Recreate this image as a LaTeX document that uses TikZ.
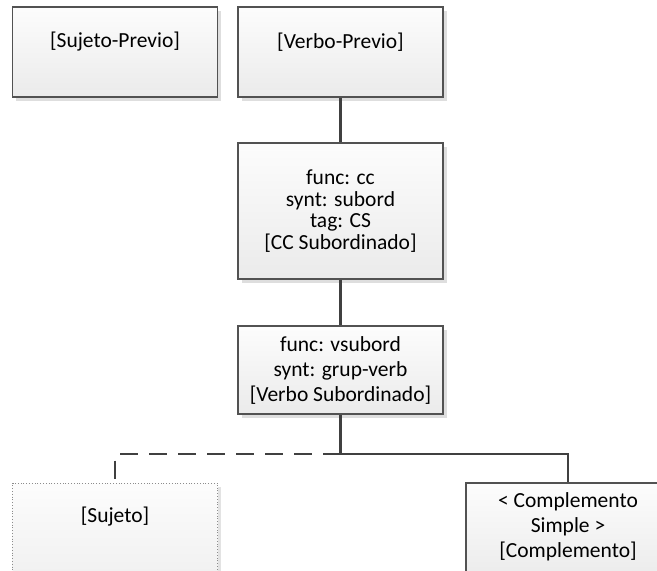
\documentclass[tikz,border=0pt]{standalone}
\usepackage{fontspec}
\setmainfont{Carlito}
\usetikzlibrary{shadows}
\begin{document}
\begin{tikzpicture}[x=1pt,y=-1pt,
  box/.style={draw=black!68, line width=1.2pt, top color=black!1, bottom color=black!8,
    minimum width=205pt, inner sep=0pt, align=center,
    drop shadow={fill=black!13, opacity=1, shadow xshift=3.5pt, shadow yshift=-3.5pt}},
  dotbox/.style={draw=black!45, line width=0.8pt, dotted, top color=black!1, bottom color=black!6,
    minimum width=205pt, inner sep=0pt,
    drop shadow={fill=black!11, opacity=1, shadow xshift=3.5pt, shadow yshift=-3.5pt}},
  lbl/.style={inner sep=0pt, align=center, font=\fontsize{21.5}{25}\selectfont},
  conn/.style={draw=black!75, line width=2.6pt},
  dconn/.style={conn, dash pattern=on 18pt off 11pt}]
\useasboundingbox (0,0) rectangle (657,571);
\clip (0,0) rectangle (657,571);
\fill[white] (0,0) rectangle (657,571);

% upper row
\node[box, minimum height=90pt] (sp) at (115,52) {};
\node[lbl] (spt) at (115,42) {{[}Sujeto-Previo{]}};
\node[box, minimum height=90pt] (vp) at (340.5,52) {};
\node[lbl] (vpt) at (340.5,42) {{[}Verbo-Previo{]}};

% subordinate clause chain
\node[box, minimum height=136pt, font=\fontsize{21.5}{21.7}\selectfont] (cc) at (340.5,211)
  {func: cc\\synt: subord\\tag: CS\\{[}CC Subordinado{]}};
\node[box, minimum height=88pt, font=\fontsize{21.5}{25}\selectfont] (vs) at (340.5,370)
  {func: vsubord\\synt: grup-verb\\{[}Verbo Subordinado{]}};

% lower row
\node[dotbox, minimum height=100pt] (sj) at (115,533) {};
\node[lbl] (sjt) at (115,517) {{[}Sujeto{]}};
\node[box, minimum height=100pt, minimum width=204pt] (cp) at (568,533) {};
\node[lbl] (cpt) at (568,527) {< Complemento\\Simple >\\{[}Complemento{]}};

% connectors
\coordinate (j) at (340.5,454);
\draw[conn] (vp.south) -- (cc.north);
\draw[conn] (cc.south) -- (vs.north);
\draw[conn] (vs.south) -- (j) -| (cp.north);
\draw[dconn] (j) -| (sj.north);
\end{tikzpicture}
\end{document}
